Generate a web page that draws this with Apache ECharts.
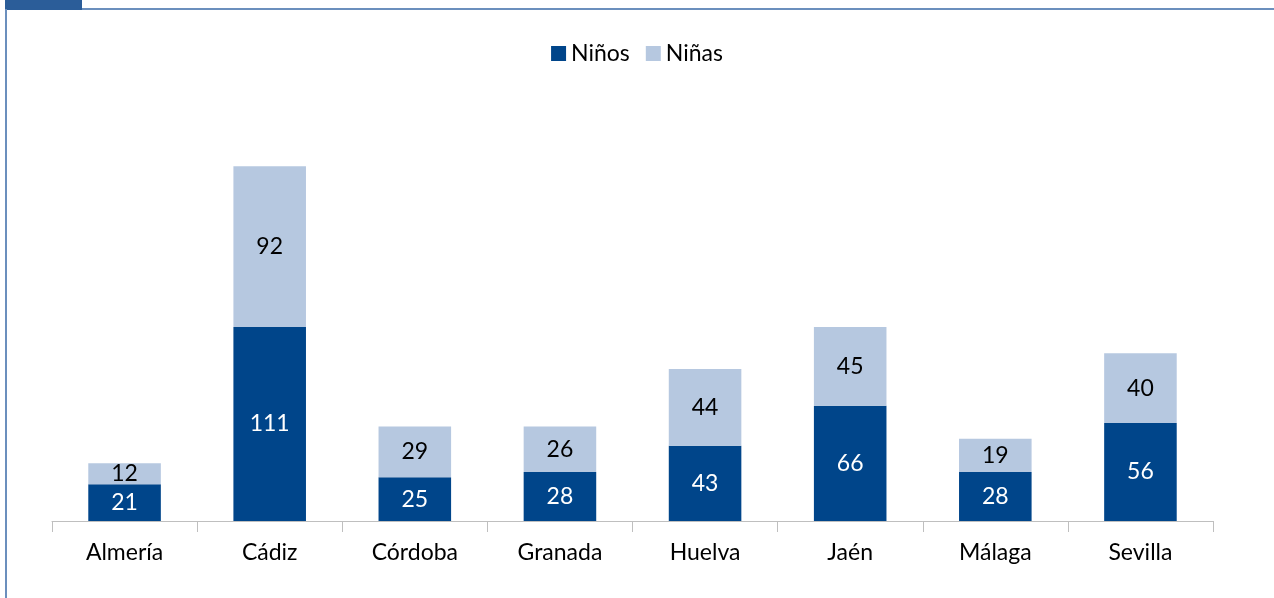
<!DOCTYPE html>
<html>
<head>
<meta charset="utf-8">
<script src="https://cdn.jsdelivr.net/npm/echarts@6/dist/echarts.min.js"></script>
<style>
  html, body { margin: 0; padding: 0; background: #fff; }
  #frame { position: relative; width: 1274px; height: 598px; overflow: hidden; }
  #tab { position: absolute; left: 5px; top: 0; width: 77px; height: 10px; background: #2b5d99; }
  #topline { position: absolute; left: 82px; top: 8px; width: 1192px; height: 2px; background: #6b8fbd; }
  #leftline { position: absolute; left: 5px; top: 9px; width: 2px; height: 589px; background: #6b8fbd; }
  #chart { position: absolute; left: 0; top: 0; width: 1274px; height: 598px; }
</style>
</head>
<body>
<div id="frame">
  <div id="chart"></div>
  <div id="tab"></div>
  <div id="topline"></div>
  <div id="leftline"></div>
</div>
<script>
  // datos
  const provincias = ['Almería', 'Cádiz', 'Córdoba', 'Granada', 'Huelva', 'Jaén', 'Málaga', 'Sevilla'];
  const ninos = [21, 111, 25, 28, 43, 66, 28, 56];
  const ninas = [12, 92, 29, 26, 44, 45, 19, 40];

  const fuente = 'Lato, "Open Sans", sans-serif';

  const chart = echarts.init(document.getElementById('chart'));
  chart.setOption({
    animation: false,
    legend: {
      top: 37,
      left: 'center',
      icon: 'rect',
      itemWidth: 15,
      itemHeight: 15,
      itemGap: 16,
      textStyle: { fontFamily: fuente, fontSize: 23, color: '#000' },
      data: ['Niños', 'Niñas']
    },
    grid: { left: 52, right: 61, top: 84, bottom: 77 },
    xAxis: {
      type: 'category',
      data: provincias,
      axisLine: { lineStyle: { color: '#bfbfbf', width: 1 } },
      axisTick: { show: true, length: 11, lineStyle: { color: '#bfbfbf' } },
      axisLabel: { fontFamily: fuente, fontSize: 23, color: '#000', margin: 20 }
    },
    yAxis: {
      type: 'value',
      min: 0,
      max: 250,
      show: false
    },
    series: [
      {
        name: 'Niños',
        type: 'bar',
        stack: 'total',
        barWidth: '50%',
        data: ninos,
        itemStyle: { color: '#00458a' },
        label: { show: true, position: 'inside', fontFamily: fuente, fontSize: 23, color: '#fff' }
      },
      {
        name: 'Niñas',
        type: 'bar',
        stack: 'total',
        barWidth: '50%',
        data: ninas,
        itemStyle: { color: '#b6c8e0' },
        label: { show: true, position: 'inside', fontFamily: fuente, fontSize: 23, color: '#000' }
      }
    ]
  });
</script>
</body>
</html>
